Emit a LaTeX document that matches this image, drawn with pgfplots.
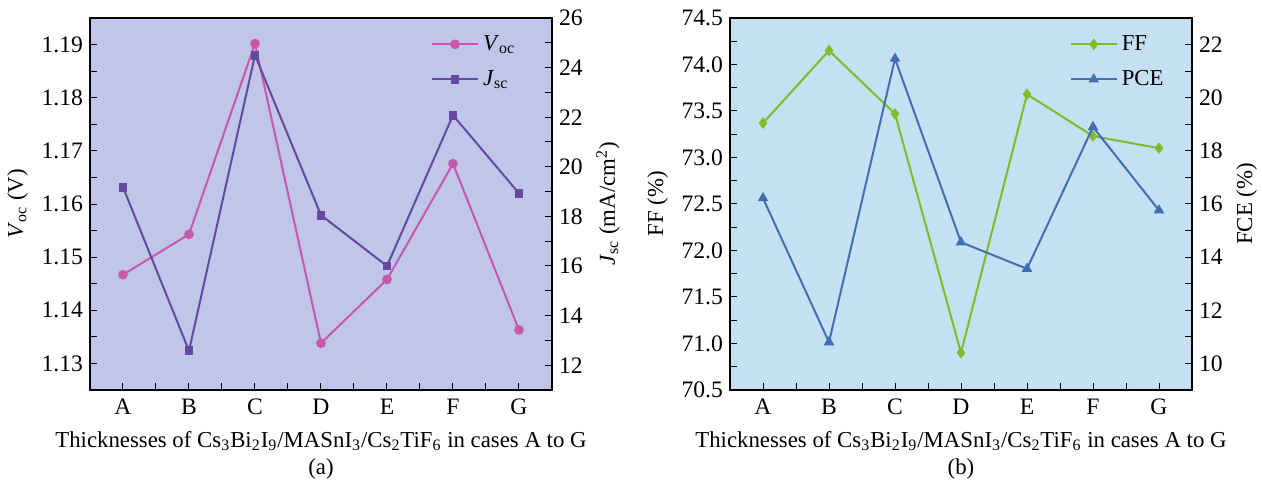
\documentclass[border=0pt]{standalone}
\usepackage{fontspec}
\setmainfont{Liberation Serif}
\usepackage{pgfplots}
\pgfplotsset{compat=1.18}

\definecolor{bgA}{RGB}{191,198,233}
\definecolor{bgB}{RGB}{196,224,242}
\definecolor{vocc}{RGB}{200,88,172}
\definecolor{jscc}{RGB}{102,72,160}
\definecolor{ffc}{RGB}{124,190,42}
\definecolor{pcec}{RGB}{66,110,180}

\pgfplotsset{
  panel/.style={
    scale only axis, width=231pt, height=186pt,
    xmin=-0.5, xmax=6.5,
    yticklabel={\pgfmathprintnumber[assume math mode=true]{\tick}},
    tick align=inside,
    major tick length=3.5pt, minor tick length=3.5pt,
    every tick/.style={black, line width=0.5pt},
    axis line style={line width=0.6pt},
    tick label style={font=\fontsize{11.8}{14}\selectfont},
    label style={font=\fontsize{11.4}{13.5}\selectfont},
  },
  cats/.style={
    xtick={0,1,2,3,4,5,6}, xticklabels={A,B,C,D,E,F,G},
    minor xtick={0.5,1.5,2.5,3.5,4.5,5.5},
    xtick pos=bottom, ytick pos=left,
    xticklabel style={yshift=-1pt},
    xlabel style={align=center, yshift=-1.5pt},
  },
  twin/.style={axis x line=none, axis y line*=right, axis background/.style={}},
  leg/.style={legend style={draw=none, fill=none, inner sep=0pt, anchor=north east,
    font=\fontsize{11.4}{13.5}\selectfont, row sep=4.5pt}, legend cell align=left,
    legend image code/.code={\draw[mark repeat=2, mark phase=2, ##1]
      plot coordinates {(0pt,0pt) (11.5pt,0pt) (23pt,0pt)};}},
}

\begin{document}
\begin{tikzpicture}
\useasboundingbox (0,0) rectangle (631pt,243pt);

% ---- panel (a)
\begin{axis}[panel, cats, at={(45pt,48pt)}, anchor=south west,
    axis background/.style={fill=bgA},
    ymin=1.125, ymax=1.195,
    ytick={1.13,1.14,1.15,1.16,1.17,1.18,1.19},
    minor ytick={1.135,1.145,1.155,1.165,1.175,1.185},
    yticklabel style={/pgf/number format/.cd, fixed, fixed zerofill, precision=2},
    ylabel={\textit{V}\textsubscript{oc} (V)},
    xlabel={Thicknesses of Cs\textsubscript{3}Bi\textsubscript{2}I\textsubscript{9}/MASnI\textsubscript{3}/Cs\textsubscript{2}TiF\textsubscript{6} in cases A to G\\(a)}]
\addplot[vocc, line width=1pt, mark=*, mark size=1.9pt] coordinates {
  (0,1.1467) (1,1.1543) (2,1.1902) (3,1.1338) (4,1.1458) (5,1.1676) (6,1.1363)};
\end{axis}
\begin{axis}[panel, twin, leg, at={(45pt,48pt)}, anchor=south west,
    legend style={at={(0.93,0.965)}},
    ymin=11, ymax=26, ytick={12,14,16,18,20,22,24,26},
    minor ytick={11,13,15,17,19,21,23,25},
    ylabel={\textit{J}\textsubscript{sc} (mA/cm\textsuperscript{2})}]
\addlegendimage{vocc, line width=1pt, mark=*, mark size=1.9pt}
\addlegendentry{\textit{V}\textsubscript{oc}}
\addplot[jscc, line width=1pt, mark=square*, mark size=1.7pt] coordinates {
  (0,19.18) (1,12.58) (2,24.50) (3,18.05) (4,16.00) (5,22.08) (6,18.93)};
\addlegendentry{\textit{J}\textsubscript{sc}}
\end{axis}

% ---- panel (b)
\begin{axis}[panel, cats, at={(365pt,48pt)}, anchor=south west,
    axis background/.style={fill=bgB},
    ymin=70.5, ymax=74.5,
    ytick={70.5,71,71.5,72,72.5,73,73.5,74,74.5},
    minor ytick={70.75,71.25,71.75,72.25,72.75,73.25,73.75,74.25},
    yticklabel style={/pgf/number format/.cd, fixed, fixed zerofill, precision=1},
    ylabel={FF (\%)},
    xlabel={Thicknesses of Cs\textsubscript{3}Bi\textsubscript{2}I\textsubscript{9}/MASnI\textsubscript{3}/Cs\textsubscript{2}TiF\textsubscript{6} in cases A to G\\(b)}]
\addplot[ffc, line width=1pt, mark=diamond*, mark size=2.1pt] coordinates {
  (0,73.37) (1,74.15) (2,73.47) (3,70.90) (4,73.68) (5,73.23) (6,73.10)};
\end{axis}
\begin{axis}[panel, twin, leg, at={(365pt,48pt)}, anchor=south west,
    legend style={at={(0.948,0.965)}},
    ymin=9, ymax=23, ytick={10,12,14,16,18,20,22},
    minor ytick={9,11,13,15,17,19,21,23},
    ylabel={FCE (\%)}]
\addlegendimage{ffc, line width=1pt, mark=diamond*, mark size=2.1pt}
\addlegendentry{FF}
\addplot[pcec, line width=1pt, mark=triangle*, mark size=2.1pt] coordinates {
  (0,16.22) (1,10.80) (2,21.47) (3,14.56) (4,13.56) (5,18.90) (6,15.76)};
\addlegendentry{PCE}
\end{axis}
\end{tikzpicture}
\end{document}
